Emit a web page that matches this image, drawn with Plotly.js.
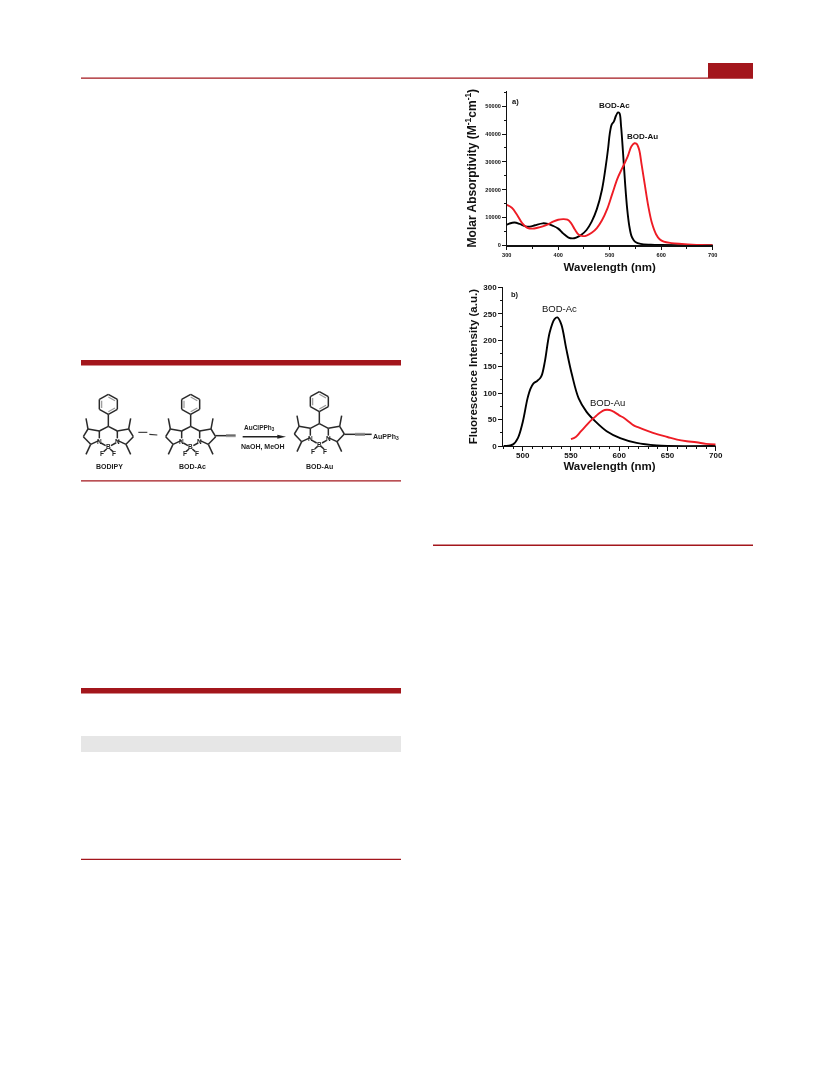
<!DOCTYPE html>
<html><head><meta charset="utf-8">
<script src="https://cdn.plot.ly/plotly-3.0.1.min.js"></script>
<style>html,body{margin:0;padding:0;background:#fff}#c{width:833px;height:1091px;filter:blur(0.5px)}</style>
</head><body><div id="c"></div>
<script>
const absBlackX=[300,305,315,325,335,345,355,370,380,390,400,410,420,428,435,445,455,465,475,485,492,497,500,504,508,512,516,519,522,526,530,534,538,542,546,550,560,580,600,650,700];
const absBlackY=[7400,7800,8200,7700,6900,6700,7200,7900,7700,7000,6000,4200,2800,2500,2800,3800,5500,8500,13000,20000,28000,35000,40000,43500,44500,46500,47800,47500,43000,33000,22000,13000,7000,3500,2000,1200,500,200,100,50,0];
const absRedX=[300,310,320,330,340,350,360,370,380,390,400,410,418,425,432,440,448,455,465,475,485,495,505,515,525,535,542,548,552,557,562,568,575,582,590,597,605,620,640,660,680,700];
const absRedY=[14500,13500,11000,8000,6300,6000,6300,6800,7500,8500,9200,9400,9200,8000,5800,3800,3300,3500,4500,6200,9000,13000,18500,24000,28000,32000,35500,36700,36500,34500,29000,22000,14000,8000,4000,2200,1300,800,500,250,100,0];
const emBlackX=[480,490,495,500,505,508,511,515,518,520,523,528,533,536,540,545,551,558,566,575,587,601,618,639,650,700];
const emBlackY=[0,3,15,45,90,108,118,123,128,135,160,215,240,243,230,185,135,90,65,47,28,15,6,1,0,0];
const emRedX=[550,555,560,565,570,575,580,585,590,595,600,605,610,615,620,630,640,650,660,670,680,690,700];
const emRedY=[13,17,27,37,47,55,63,68,68,64,58,53,46,39,35,28,22,17,12,9,7,4,3];

const W=833,H=1091;
const px=x=>x/W, py=y=>1-y/H;
const RED='#a3161c';
const shapes=[], notes=[];
function rect(x0,y0,x1,y1,c){shapes.push({type:'rect',xref:'paper',yref:'paper',x0:px(x0),x1:px(x1),y0:py(y0),y1:py(y1),fillcolor:c,line:{width:0},layer:'below'});}
const sx=z=>70+z/3, sy=z=>355+z/3;
function bond(a,b,c,d,col,w){shapes.push({type:'line',xref:'paper',yref:'paper',x0:px(sx(a)),x1:px(sx(c)),y0:py(sy(b)),y1:py(sy(d)),line:{color:col||'#2a2a2a',width:w||1.5},layer:'below'});}
function label(z1,z2,t,size){notes.push({xref:'paper',yref:'paper',x:px(sx(z1)),y:py(sy(z2)),text:'<b>'+t+'</b>',showarrow:false,xanchor:'center',yanchor:'middle',font:{family:'Liberation Sans',size:size||6.5,color:'#222'}});}
function molecule(cx,dy){
  const X=v=>cx+v, Y=v=>v+dy;
  const hex=[[0,118],[27,133],[27,163],[0,178],[-27,163],[-27,133]];
  hex.forEach((p,i)=>{const q=hex[(i+1)%6];bond(X(p[0]),Y(p[1]),X(q[0]),Y(q[1]));});
  bond(X(-20),Y(137),X(-20),Y(159),'#999',1.2);bond(X(0),Y(126),X(20),Y(137),'#999',1.2);bond(X(0),Y(170),X(20),Y(159),'#999',1.2);
  bond(X(0),Y(178),X(0),Y(214));
  [-1,1].forEach(s=>{
    const P=[[27,228],[61,222],[75,245],[53,268],[27,256]];
    bond(X(0),Y(214),X(s*P[0][0]),Y(P[0][1]));
    for(let i=0;i<4;i++) bond(X(s*P[i][0]),Y(P[i][1]),X(s*P[i+1][0]),Y(P[i+1][1]));
    bond(X(s*27),Y(228),X(s*27),Y(250));
    bond(X(s*61),Y(222),X(s*67),Y(190));
    bond(X(s*53),Y(268),X(s*67),Y(298));
    bond(X(s*22),Y(264),X(s*8),Y(272));
    bond(X(s*5),Y(282),X(s*14),Y(290));
    label(X(s*27),Y(260),'N',6.5);
    label(X(s*18),Y(297),'F',6.5);
  });
  label(X(0),Y(275),'B',6.5);
}
function triple(a,b,c){bond(a,b-3,c,b-3,'#8a8a8a',1);bond(a,b,c,b,'#555',1);bond(a,b+3,c,b+3,'#8a8a8a',1);}

rect(81,77.5,753,78.8,RED);rect(708,63,753,78,RED);
rect(81,360,401,365.5,RED);rect(81,480.2,401,481.6,RED);
rect(81,688,401,693.5,RED);rect(81,736,401,752,'#e6e6e6');rect(81,858.8,401,860,RED);
rect(433,544.6,753,546,RED);

molecule(115,0);label(118,335,'BODIPY',7);
molecule(362,0);label(367,333,'BOD-Ac',7);
bond(437,242,468,242);triple(468,242,497);
molecule(748,-8);label(748,333,'BOD-Au',7);
bond(823,238,855,238);triple(855,238,885);bond(885,238,905,238);
label(948,246,'AuPPh<sub>3</sub>',7);
bond(205,232,232,232,'#333',1.1);bond(238,238,262,240,'#333',1.1);
bond(518,245,625,245,'#222',1.5);
shapes.push({type:'path',xref:'paper',yref:'paper',layer:'below',fillcolor:'#222',line:{width:0},
  path:`M${px(sx(622))},${py(sy(239))} L${px(sx(648))},${py(sy(245))} L${px(sx(622))},${py(sy(251))} Z`});
label(568,219,'AuClPPh<sub>3</sub>',6.5);label(580,275,'NaOH, MeOH',7);

function ann(xr,yr,x,y,t,s,b){notes.push({xref:xr,yref:yr,x,y,text:b?'<b>'+t+'</b>':t,showarrow:false,font:{family:'Liberation Sans',size:s,color:'#111'}});}
ann('x','y',509,50400,'BOD-Ac',8,true);ann('x','y',564,39100,'BOD-Au',8,true);ann('x','y',318,51700,'a)',7.5,true);
ann('x2','y2',538,260,'BOD-Ac',9.5,false);ann('x2','y2',588,82,'BOD-Au',9.5,false);ann('x2','y2',492,287,'b)',7.5,true);

const axis=(o)=>Object.assign({showgrid:false,zeroline:false,showline:true,linecolor:'#111',linewidth:1.2,ticks:'outside',tickcolor:'#111',tickwidth:1,automargin:false,tickformat:'d'},o);
const tfont=s=>({family:'Liberation Sans',size:s,color:'#111',weight:700});
const layout={width:W,height:H,margin:{l:0,r:0,t:0,b:0},paper_bgcolor:'#fff',plot_bgcolor:'rgba(0,0,0,0)',showlegend:false,shapes,annotations:notes,
 xaxis:axis({domain:[px(506.7),px(712.7)],range:[300,700],anchor:'y',dtick:100,ticklen:3.5,tickfont:tfont(5.6),minor:{dtick:50,ticks:'outside',ticklen:2,tickcolor:'#111'},
   title:{text:'<b>Wavelength (nm)</b>',font:{family:'Liberation Sans',size:11.5,color:'#111'},standoff:6}}),
 yaxis:axis({domain:[py(245.3),py(91)],range:[0,55500],anchor:'x',dtick:10000,tick0:0,ticklen:3.5,tickfont:tfont(5.6),minor:{dtick:5000,ticks:'outside',ticklen:2,tickcolor:'#111'},
   title:{text:'<b>Molar Absorptivity (M<sup>-1</sup>cm<sup>-1</sup>)</b>',font:{family:'Liberation Sans',size:12,color:'#111'},standoff:6}}),
 xaxis2:axis({domain:[px(503.4),px(715.7)],range:[480,700],anchor:'y2',dtick:50,tick0:500,ticklen:4,ticklabelstandoff:-3,tickfont:tfont(8),minor:{dtick:10,ticks:'outside',ticklen:2,tickcolor:'#111'},
   title:{text:'<b>Wavelength (nm)</b>',font:{family:'Liberation Sans',size:11.5,color:'#111'},standoff:3}}),
 yaxis2:axis({domain:[py(446),py(287.3)],range:[0,300],anchor:'x2',dtick:50,ticklen:4,tickfont:tfont(8),minor:{dtick:25,ticks:'outside',ticklen:2,tickcolor:'#111'},
   title:{text:'<b>Fluorescence Intensity (a.u.)</b>',font:{family:'Liberation Sans',size:11.5,color:'#111'},standoff:3}})
};
const tr=(x,y,c,xa,ya)=>({x,y,type:'scatter',mode:'lines',xaxis:xa,yaxis:ya,line:{color:c,width:1.9,shape:'spline',smoothing:1},hoverinfo:'skip'});
Plotly.newPlot('c',[
 tr(absBlackX,absBlackY,'#000','x','y'),tr(absRedX,absRedY,'#ee1c25','x','y'),
 tr(emBlackX,emBlackY,'#000','x2','y2'),tr(emRedX,emRedY,'#ee1c25','x2','y2')
],layout,{staticPlot:true,displayModeBar:false});
</script></body></html>
